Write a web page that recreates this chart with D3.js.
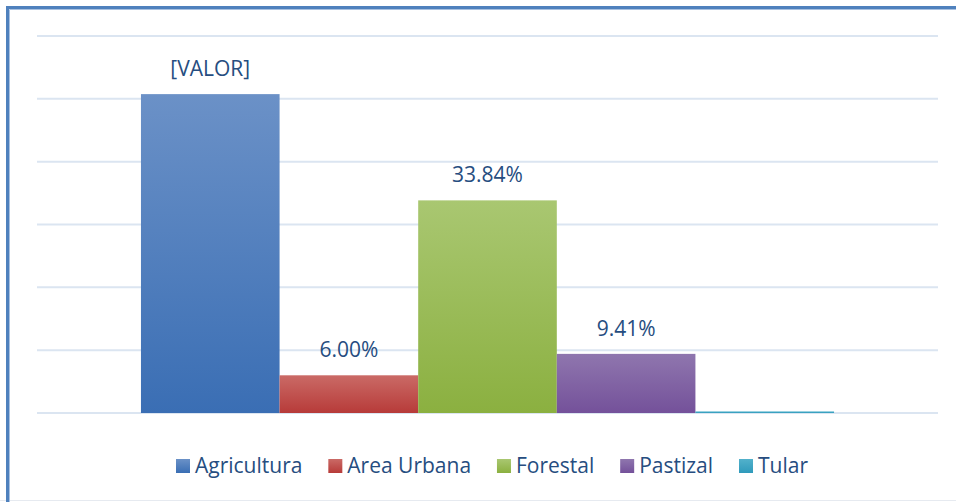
<!DOCTYPE html>
<html>
<head>
<meta charset="utf-8">
<script src="https://cdn.jsdelivr.net/npm/d3@7"></script>
<style>
  html, body { margin: 0; padding: 0; background: #fff; }
  svg { display: block; font-family: "Open Sans", sans-serif; }
</style>
</head>
<body>
<div id="viz"></div>
<script>
const width = 956;
const height = 502;

// series (one bar each), values in %, label text shown above the bar
const categories = ['Agricultura', 'Area Urbana', 'Forestal', 'Pastizal', 'Tular'];
const values = [50.75, 6.00, 33.84, 9.41, 0.25];
const labels = ['[VALOR]', '6.00%', '33.84%', '9.41%', ''];
const yTicks = [0, 10, 20, 30, 40, 50, 60];

const colorsTop = ['#6b91c7', '#ca6a66', '#a9c771', '#8f76ae', '#52b1cb'];
const colorsBottom = ['#3a6eb4', '#b73b39', '#8bb040', '#74519a', '#2f9abb'];

const plotLeft = 37, plotRight = 938, plotTop = 36, plotBottom = 413;

const svg = d3.select('#viz').append('svg')
  .attr('width', width)
  .attr('height', height);

const defs = svg.append('defs');
categories.forEach((c, i) => {
  const g = defs.append('linearGradient')
    .attr('id', 'grad' + i)
    .attr('x1', 0).attr('y1', 0).attr('x2', 0).attr('y2', 1);
  g.append('stop').attr('offset', '0%').attr('stop-color', colorsTop[i]);
  g.append('stop').attr('offset', '100%').attr('stop-color', colorsBottom[i]);
});

// frame
svg.append('line')
  .attr('x1', 0).attr('x2', width).attr('y1', 500.5).attr('y2', 500.5)
  .attr('stroke', '#e6eaf0').attr('stroke-width', 1);
svg.append('path')
  .attr('d', `M7.5,${height}V7.5H${width}`)
  .attr('fill', 'none')
  .attr('stroke', '#4f81bd')
  .attr('stroke-width', 3);
svg.append('path')
  .attr('d', `M9.5,${height}V9.5H${width}`)
  .attr('fill', 'none')
  .attr('stroke', '#a9c1e0')
  .attr('stroke-width', 1);

const x = d3.scaleBand()
  .domain(categories)
  .range([plotLeft, plotRight])
  .paddingInner(0)
  .paddingOuter(0.75);

const y = d3.scaleLinear()
  .domain([0, 60])
  .range([plotBottom, plotTop]);

// gridlines
svg.append('g')
  .selectAll('line')
  .data(yTicks)
  .join('line')
  .attr('x1', plotLeft).attr('x2', plotRight)
  .attr('y1', d => y(d)).attr('y2', d => y(d))
  .attr('stroke', '#dbe5f1')
  .attr('stroke-width', 2);

// bars
svg.append('g')
  .selectAll('rect')
  .data(categories)
  .join('rect')
  .attr('x', d => x(d))
  .attr('width', x.bandwidth())
  .attr('y', (d, i) => y(values[i]))
  .attr('height', (d, i) => y(0) - y(values[i]))
  .attr('fill', (d, i) => `url(#grad${i})`);

// value labels
svg.append('g')
  .selectAll('text')
  .data(categories)
  .join('text')
  .attr('x', d => x(d) + x.bandwidth() / 2)
  .attr('y', (d, i) => y(values[i]) - 18)
  .attr('text-anchor', 'middle')
  .attr('font-size', 21)
  .attr('fill', '#264d80')
  .text((d, i) => labels[i]);

// legend
const legend = svg.append('g');
const items = legend.selectAll('g')
  .data(categories)
  .join('g');

items.append('rect')
  .attr('width', 14).attr('height', 14)
  .attr('y', -14)
  .attr('fill', (d, i) => `url(#grad${i})`);

items.append('text')
  .attr('x', 19)
  .attr('font-size', 21)
  .attr('fill', '#264d80')
  .text(d => d);

const widths = [];
items.each(function () {
  widths.push(19 + this.querySelector('text').getComputedTextLength());
});
// legend spans roughly from x=176 to x=808
const legendLeft = 176, legendRight = 808;
const gap = (legendRight - legendLeft - d3.sum(widths)) / (widths.length - 1);
let cx = legendLeft;
items.attr('transform', (d, i) => {
  const t = `translate(${cx},473)`;
  cx += widths[i] + gap;
  return t;
});
</script>
</body>
</html>
